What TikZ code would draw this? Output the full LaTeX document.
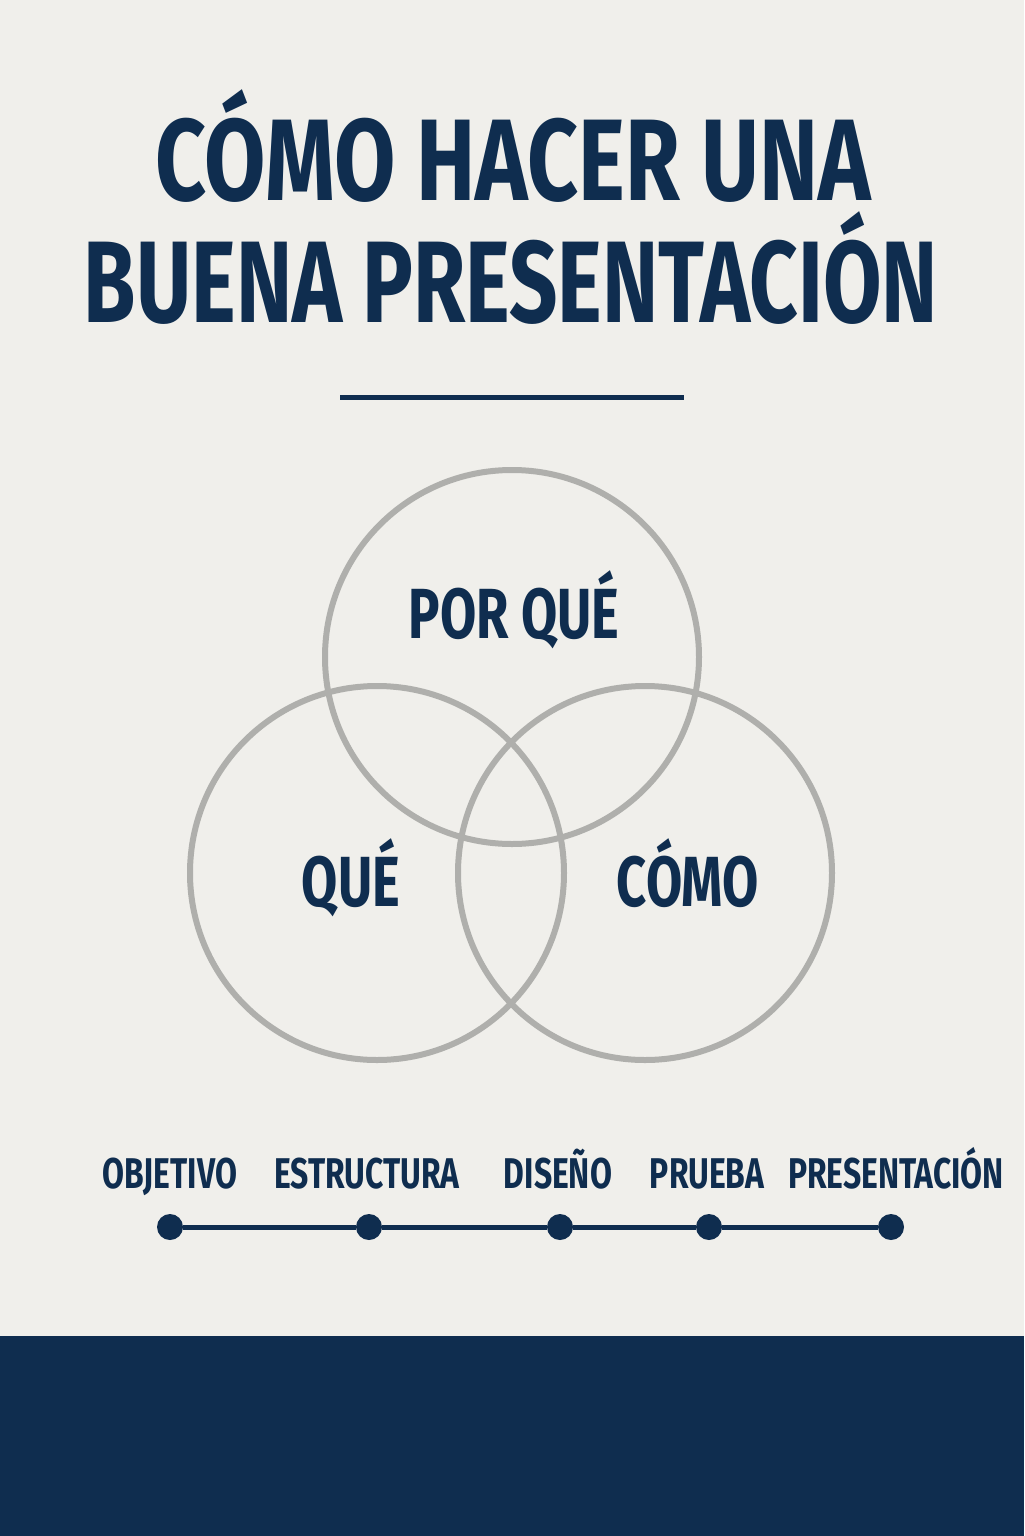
\documentclass[tikz,border=0pt]{standalone}
\usepackage{fontspec}
\newfontfamily\condfont{Fira Sans}[FakeStretch=0.74]
\definecolor{navy}{HTML}{0F2D4F}
\definecolor{paper}{HTML}{F0EFEB}
\definecolor{ring}{HTML}{AFAFAC}
\begin{document}
\begin{tikzpicture}[x=0.5pt,y=-0.5pt,
  ttl/.style={anchor=base,inner sep=0pt,text=navy,font=\condfont\bfseries\fontsize{58}{60}\selectfont},
  venn/.style={anchor=base,inner sep=0pt,text=navy,font=\condfont\bfseries\fontsize{35.5}{38}\selectfont},
  lbl/.style={anchor=base,inner sep=0pt,text=navy,font=\condfont\bfseries\fontsize{21.5}{24}\selectfont},
  ringc/.style={draw=ring,line width=3pt},
  dot/.style={circle,fill=navy,minimum size=13pt,inner sep=0pt},
  tl/.style={draw=navy,line width=2.5pt}]
\fill[paper] (0,0) rectangle (1024,1536);
\useasboundingbox (0,0) rectangle (1024,1536);
\fill[navy] (0,1336) rectangle (1024,1536);
\node[ttl] (t1) at (513,200) {\scalebox{1.036}[1]{CÓMO HACER UNA}};
\node[ttl] (t2) at (511,322) {\scalebox{0.988}[1]{BUENA PRESENTACIÓN}};
\coordinate (d1) at (340,397);
\coordinate (d2) at (684,397);
\draw[navy,line width=2.5pt] (d1) -- (d2);
\draw[ringc] (512,657) circle (187);
\draw[ringc] (377,873) circle (187);
\draw[ringc] (645,873) circle (187);
\node[venn] (v1) at (514,638) {POR QUÉ};
\node[venn] (v2) at (351,906) {QUÉ};
\node[venn] (v3) at (688,906) {CÓMO};
\node[lbl] (l1) at (170,1188) {OBJETIVO};
\node[lbl] (l2) at (367,1188) {ESTRUCTURA};
\node[lbl] (l3) at (558,1188) {DISEÑO};
\node[lbl] (l4) at (707,1188) {PRUEBA};
\node[lbl] (l5) at (896,1188) {PRESENTACIÓN};
\node[dot] (p1) at (170,1227) {};
\node[dot] (p2) at (369,1227) {};
\node[dot] (p3) at (560,1227) {};
\node[dot] (p4) at (709,1227) {};
\node[dot] (p5) at (891,1227) {};
\draw[tl] (p1) -- (p2) -- (p3) -- (p4) -- (p5);
\end{tikzpicture}
\end{document}
